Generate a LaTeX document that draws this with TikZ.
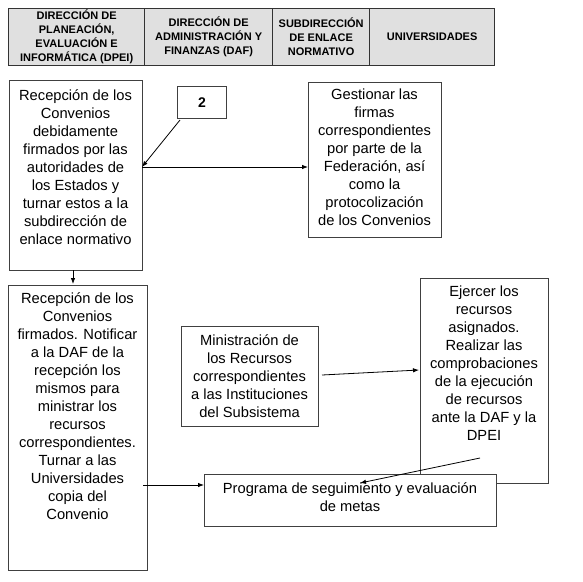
\documentclass[tikz,border=0pt]{standalone}
\usepackage{fontspec}
\setmainfont{Liberation Sans}
\usetikzlibrary{arrows.meta,calc}
\begin{document}
\begin{tikzpicture}[x=1pt,y=-1pt,
  hcell/.style={draw=black!80,line width=1.3pt,fill=black!12,inner sep=0pt,anchor=north west,
    font=\fontsize{11}{14}\selectfont\bfseries,align=center},
  box/.style={draw=black!75,line width=1.2pt,inner sep=0pt,anchor=north west},
  txt/.style={font=\fontsize{14.7}{18}\selectfont,align=center,inner sep=0pt,anchor=north},
  arr/.style={-{Latex[length=6pt,width=4.5pt]},line width=0.8pt}]
\useasboundingbox (0,0) rectangle (583,581);
% header
\node[hcell,minimum width=136,minimum height=57] (h1) at (8,8) {DIRECCIÓN DE\\PLANEACIÓN,\\EVALUACIÓN E\\INFORMÁTICA (DPEI)};
\node[hcell,minimum width=128,minimum height=57] (h2) at (144,8) {DIRECCIÓN DE\\ADMINISTRACIÓN Y\\FINANZAS (DAF)};
\node[hcell,minimum width=97,minimum height=57] (h3) at (272,8) {SUBDIRECCIÓN\\DE ENLACE\\NORMATIVO};
\node[hcell,minimum width=125,minimum height=57] (h4) at (369,8) {UNIVERSIDADES};
% boxes
\node[box,minimum width=133,minimum height=190] (b1) at (9,80) {};
\node[txt] (t1) at (75.5,89) {Recepción de los\\Convenios\\debidamente\\firmados por las\\autoridades de\\los Estados y\\turnar estos a la\\subdirección de\\enlace normativo};
\node[box,minimum width=49,minimum height=32,font=\fontsize{14}{16}\selectfont\bfseries] (b2) at (177,86) {2};
\node[box,minimum width=133,minimum height=155] (b3) at (308,82) {};
\node[txt] (t3) at (374.5,89) {Gestionar las\\firmas\\correspondientes\\por parte de la\\Federación, así\\como la\\protocolización\\de los Convenios};
\node[box,minimum width=139,minimum height=285] (b4) at (8,285) {};
\node[txt] (t4) at (77.5,292) {Recepción de los\\Convenios\\firmados. Notificar\\a la DAF de la\\recepción los\\mismos para\\ministrar los\\recursos\\correspondientes.\\Turnar a las\\Universidades\\copia del\\Convenio};
\node[box,minimum width=137,minimum height=100] (b5) at (181,326) {};
\node[txt] (t5) at (249.5,334) {Ministración de\\los Recursos\\correspondientes\\a las Instituciones\\del Subsistema};
\node[box,minimum width=128,minimum height=205] (b6) at (420,278) {};
\node[txt] (t6) at (484,286) {Ejercer los\\recursos\\asignados.\\Realizar las\\comprobaciones\\de la ejecución\\de recursos\\ante la DAF y la\\DPEI};
\node[box,fill=white,minimum width=292,minimum height=52] (b7) at (204,474) {};
\node[txt] (t7) at (350,482) {Programa de seguimiento y evaluación\\de metas};
% connector points
\coordinate (j1) at (142,167);
\coordinate (c2) at (180,120);
\coordinate (d1) at (73,270);
\coordinate (d2) at (73,284);
\coordinate (p1) at (143,485);
\coordinate (m1) at (322,375);
\coordinate (m2) at (419,370);
\coordinate (e1) at (480,458);
\coordinate (e2) at (360,483);
% connectors
\draw[arr] (c2) -- (j1);
\draw[arr] (j1) -- (b3.west |- j1);
\draw[arr] (d1) -- (d2);
\draw[arr] (p1) -- (b7.west |- p1);
\draw[arr] (m1) -- (m2);
\draw[arr] (e1) -- (e2);
\end{tikzpicture}
\end{document}
